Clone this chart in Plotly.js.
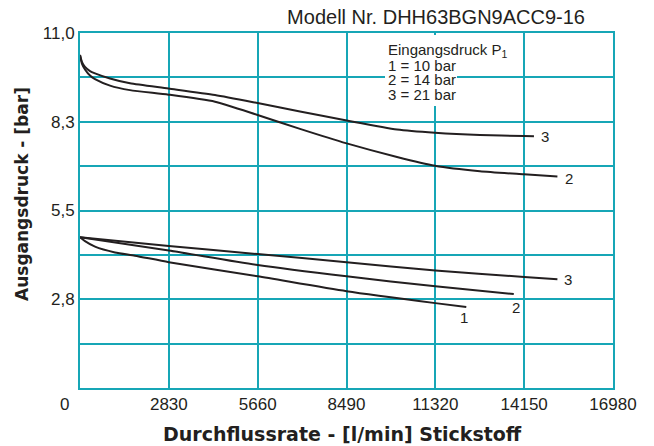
<!DOCTYPE html>
<html>
<head>
<meta charset="utf-8">
<script src="https://cdn.plot.ly/plotly-3.0.1.min.js"></script>
<style>html,body{margin:0;padding:0;background:#fff;}#chart{width:654px;height:446px;}</style>
</head>
<body>
<div id="chart"></div>
<script>
// X axis ticks (l/min) and Y axis ticks (bar)
const xTickVals = [2830, 5660, 8490, 11320, 14150, 16980];
const xTickText = ["2830", "5660", "8490", "11320", "14150", "16980"];
const yTickVals = [2.75, 5.5, 8.25, 11];
const yTickText = ["2,8", "5,5", "8,3", "11,0"];

// Upper curves
const upper3Flow = [0, 64, 159, 319, 478, 956, 1593, 2819, 4301, 5658, 7008, 8496, 10099, 11307, 12741, 14143, 14462];
const upper3Press = [10.32, 10.10, 9.95, 9.82, 9.75, 9.59, 9.44, 9.28, 9.08, 8.83, 8.57, 8.29, 8.01, 7.91, 7.84, 7.81, 7.80];
const upper2Flow = [0, 64, 159, 319, 478, 956, 1593, 2819, 4301, 5658, 7008, 8496, 10099, 11307, 12741, 14143, 15209];
const upper2Press = [10.32, 10.04, 9.87, 9.68, 9.57, 9.37, 9.23, 9.09, 8.87, 8.46, 8.03, 7.58, 7.16, 6.89, 6.72, 6.62, 6.55];

// Lower curves
const lower3Flow = [0, 2830, 5660, 8490, 11320, 14150, 15209];
const lower3Press = [4.67, 4.40, 4.15, 3.90, 3.64, 3.44, 3.37];
const lower2Flow = [0, 2830, 5660, 8490, 11320, 13819];
const lower2Press = [4.67, 4.26, 3.81, 3.46, 3.15, 2.91];
const lower1Flow = [0, 159, 478, 1115, 1750, 2830, 5660, 8490, 11320, 12306];
const lower1Press = [4.67, 4.55, 4.38, 4.20, 4.10, 3.90, 3.46, 3.00, 2.63, 2.51];

// Curve labels
const curveLabelText = ["3", "2", "3", "2", "1"];
const curveLabelFlow = [14813, 15578, 15546, 13890, 12233];
const curveLabelPress = [7.80, 6.48, 3.35, 2.48, 2.17];

// Legend text
const legendLines = ["Eingangsdruck P<sub>1</sub>", "1 = 10 bar", "2 = 14 bar", "3 = 21 bar"];

const teal = "#17a6b6";
const ink = "#231f20";
const font = "Liberation Sans, Arial, sans-serif";
const boldFont = "DejaVu Sans, Liberation Sans, sans-serif";

const lineStyle = {color: ink, width: 2, shape: "spline", smoothing: 0.6};
const mk = (x, y) => ({x: x, y: y, type: "scatter", mode: "lines", line: lineStyle, hoverinfo: "skip", showlegend: false});
const traces = [
  mk(upper3Flow, upper3Press), mk(upper2Flow, upper2Press),
  mk(lower3Flow, lower3Press), mk(lower2Flow, lower2Press), mk(lower1Flow, lower1Press)
];

const annotations = [];
curveLabelText.forEach((t, i) => annotations.push({
  x: curveLabelFlow[i], y: curveLabelPress[i], xref: "x", yref: "y", text: t,
  showarrow: false, font: {family: font, size: 15, color: ink}, xanchor: "center", yanchor: "middle"
}));
const legendY = [50.5, 65, 79.5, 94];
legendLines.forEach((t, i) => annotations.push({
  x: (387 - 80) / 533, y: (388 - legendY[i]) / 355, xref: "paper", yref: "paper", text: t,
  showarrow: false, font: {family: font, size: 15, color: ink}, xanchor: "left", yanchor: "middle", borderpad: 0
}));
// "0" label of x axis
annotations.push({x: (64 - 80) / 533, y: (388 - 404) / 355, xref: "paper", yref: "paper", text: "0",
  showarrow: false, font: {family: font, size: 17, color: ink}, xanchor: "center", yanchor: "middle"});
// Axis titles
annotations.push({x: (342 - 80) / 533, y: (388 - 434) / 355, xref: "paper", yref: "paper",
  text: "<b>Durchflussrate - [l/min] Stickstoff</b>", showarrow: false,
  font: {family: boldFont, size: 19, color: ink}, xanchor: "center", yanchor: "middle"});
annotations.push({x: (22 - 80) / 533, y: (388 - 194) / 355, xref: "paper", yref: "paper",
  text: "<b>Ausgangsdruck - [bar]</b>", showarrow: false, textangle: -90,
  font: {family: boldFont, size: 17, color: ink}, xanchor: "center", yanchor: "middle"});

const layout = {
  width: 654, height: 446,
  margin: {l: 80, r: 41, t: 33, b: 58},
  paper_bgcolor: "#fff", plot_bgcolor: "#fff",
  title: {text: "Modell Nr. DHH63BGN9ACC9-16", font: {family: font, size: 20, color: ink},
    xref: "paper", x: 1 - 28 / 533, xanchor: "right", yref: "container", y: 1 - 17 / 446, yanchor: "middle"},
  xaxis: {range: [0, 16980], tickvals: xTickVals, ticktext: xTickText, showgrid: true, gridcolor: teal, gridwidth: 2,
    showline: true, linecolor: teal, linewidth: 2, mirror: true, zeroline: false, ticks: "",
    tickfont: {family: font, size: 17, color: ink}, fixedrange: true},
  yaxis: {range: [0, 11], tickvals: yTickVals, ticktext: yTickText, showgrid: true, gridcolor: teal, gridwidth: 2,
    minor: {tick0: 0, dtick: 1.375, showgrid: true, gridcolor: teal, gridwidth: 2, ticks: ""},
    showline: true, linecolor: teal, linewidth: 2, mirror: true, zeroline: false, ticks: "",
    tickfont: {family: font, size: 17, color: ink}, fixedrange: true},
  shapes: [{type: "rect", xref: "paper", yref: "paper", layer: "above",
    x0: (385 - 80) / 533, x1: (457 - 80) / 533, y0: (388 - 106) / 355, y1: (388 - 35) / 355,
    fillcolor: "#fff", line: {width: 0}}],
  annotations: annotations,
  showlegend: false
};

Plotly.newPlot("chart", traces, layout, {displayModeBar: false, staticPlot: true});
</script>
</body>
</html>
